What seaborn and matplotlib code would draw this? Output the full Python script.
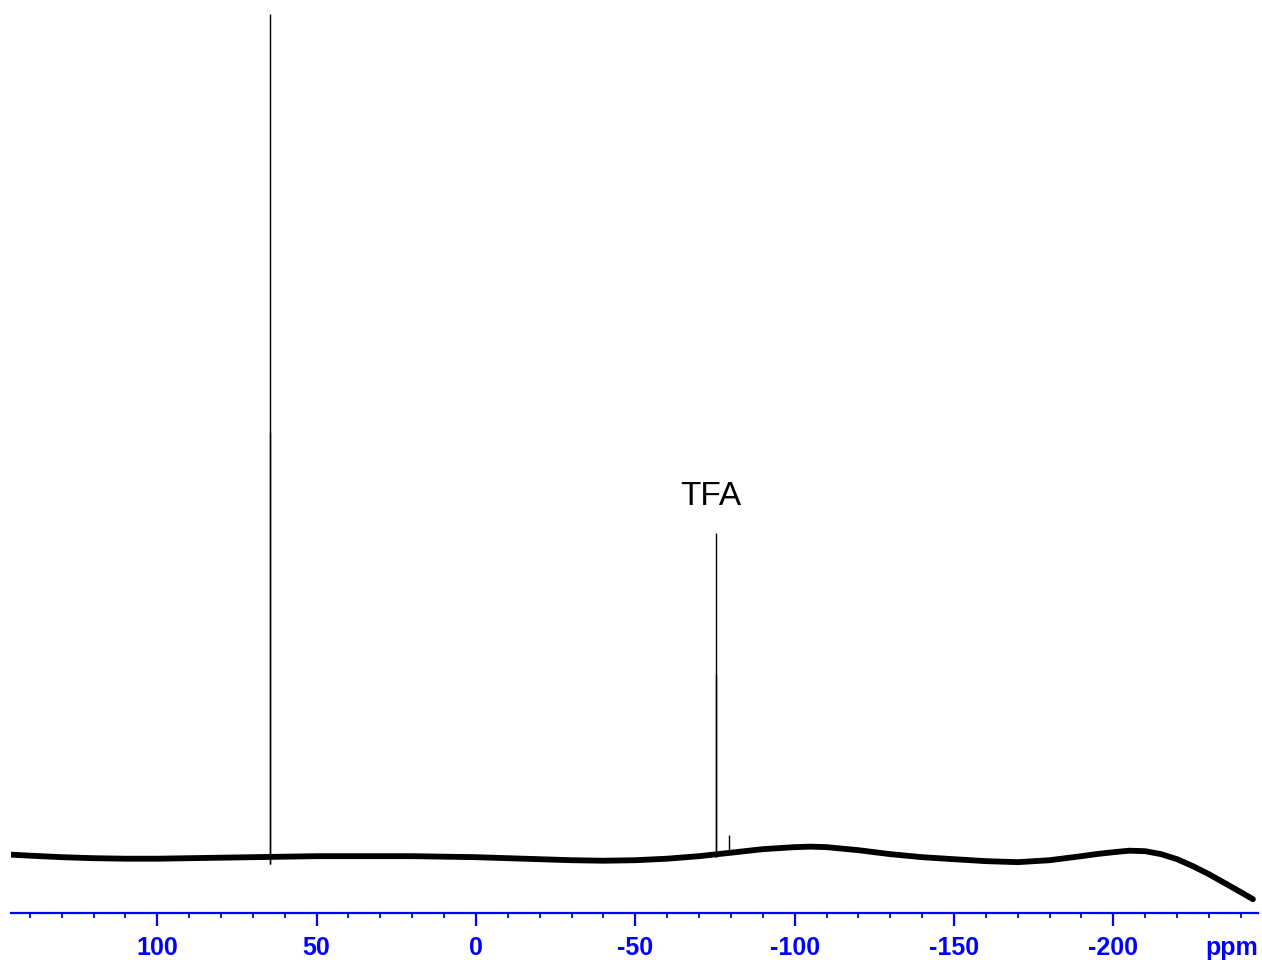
import numpy as np
import pandas as pd
import matplotlib
matplotlib.use("Agg")
import matplotlib.pyplot as plt
import seaborn as sns

# Baseline of the 19F spectrum (chemical shift in ppm, relative intensity)
baseline_ppm = [145.9, 140, 130, 120, 110, 100, 90, 80, 70, 60, 50, 40, 30, 20, 10, 0,
                -10, -20, -30, -40, -50, -60, -70, -80, -90, -95, -100, -105, -110,
                -115, -120, -130, -140, -150, -160, -170, -180, -190, -195, -200,
                -205, -210, -215, -220, -225, -230, -235, -240, -243.8]
baseline_int = [0.30, 0.18, 0.00, -0.12, -0.18, -0.18, -0.12, -0.06, 0.00, 0.06, 0.12,
                0.12, 0.12, 0.12, 0.06, 0.00, -0.12, -0.24, -0.36, -0.42, -0.36, -0.18,
                0.12, 0.53, 0.95, 1.07, 1.19, 1.25, 1.19, 1.01, 0.83, 0.36, 0.00,
                -0.24, -0.47, -0.59, -0.36, 0.12, 0.38, 0.59, 0.77, 0.71, 0.36,
                -0.24, -1.07, -2.02, -3.08, -4.15, -4.98]

# Sharp resonances (ppm, peak height)
peak_ppm = [64.7, 64.5, -75.3, -75.4, -79.4]
peak_height = [100.0, 50.4, 38.4, 21.7, 2.6]
peak_floor = [-0.8, -0.8, 0.0, 0.0, 0.5]

# Axis ticks and labels
major_ticks = [100, 50, 0, -50, -100, -150, -200]
tick_labels = ["100", "50", "0", "-50", "-100", "-150", "-200"]
minor_ticks = list(range(140, -250, -10))

sns.set_style("white")
plt.rcParams["font.family"] = ["Liberation Sans", "DejaVu Sans"]

BLUE = "#0000ff"
W, H = 1262, 960
fig = plt.figure(figsize=(W / 100, H / 100), dpi=100)
ax = fig.add_axes([11 / W, 47 / H, 1247 / W, 913 / H])

spec = pd.DataFrame({"ppm": baseline_ppm, "intensity": baseline_int})
sns.lineplot(data=spec, x="ppm", y="intensity", sort=False, estimator=None,
             color="black", linewidth=4.2, ax=ax)

ax.vlines(peak_ppm, peak_floor, peak_height, colors="black", linewidth=1.0)

ax.text(-73.7, 42.8, "TFA", fontsize=24, ha="center", va="center", color="black")

ax.set_xlim(145.9, -245.4)
ax.set_ylim(-6.62, 101.66)

for side in ["top", "left", "right"]:
    ax.spines[side].set_visible(False)
ax.spines["bottom"].set_color(BLUE)
ax.spines["bottom"].set_linewidth(1.6)

ax.set_yticks([])
ax.set_xticks(major_ticks)
ax.set_xticklabels(tick_labels)
ax.set_xticks(minor_ticks, minor=True)
ax.tick_params(axis="x", which="both", bottom=True, top=False)
ax.tick_params(axis="x", which="major", direction="out", length=9.5, width=1.6,
               color=BLUE, labelcolor=BLUE, labelsize=18, pad=7)
ax.tick_params(axis="x", which="minor", direction="out", length=3.5, width=1.3,
               color=BLUE)
for lbl in ax.get_xticklabels():
    lbl.set_fontweight("bold")
ax.set_xlabel("")
ax.set_ylabel("")

# Unit label sits on the same baseline as the tick numbers
ax.text(1.0, -0.046, "ppm", transform=ax.transAxes, ha="right", va="baseline",
        fontsize=18, fontweight="bold", color=BLUE)

fig.savefig("out.png", dpi=100, facecolor="white")
